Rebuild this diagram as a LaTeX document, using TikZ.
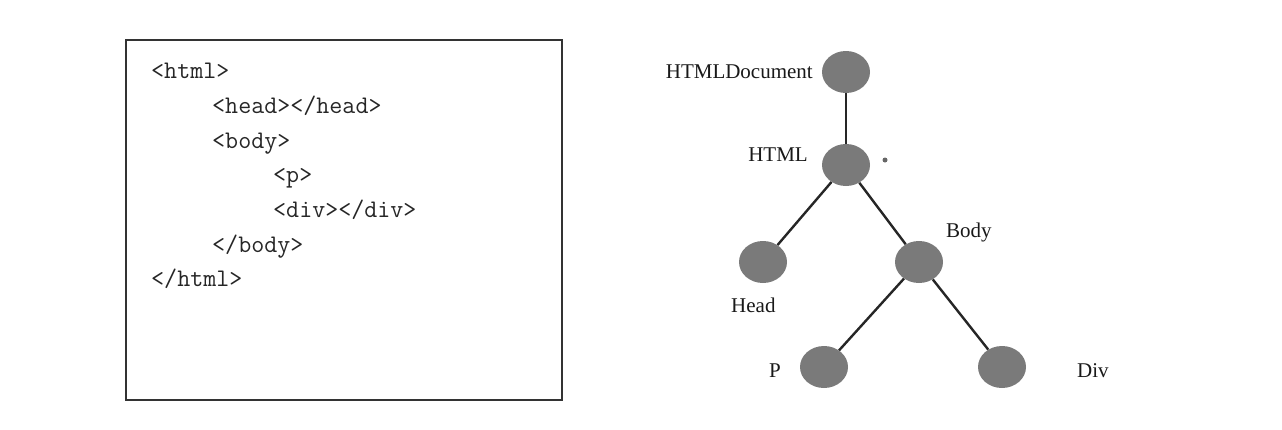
\documentclass[tikz,border=0pt]{standalone}
\usepackage{fontspec}
\setmainfont{Liberation Serif}
\usetikzlibrary{shapes.geometric, positioning}

\begin{document}
\begin{tikzpicture}[
    x=1pt, y=-1pt,
    codebox/.style={draw=black!80, line width=1.8pt},
    codeline/.style={anchor=base west, inner sep=0pt, font=\fontsize{25.3}{29}\selectfont\ttfamily, text=black!85},
    domnode/.style={ellipse, fill=black!52, minimum width=48pt, minimum height=42pt, inner sep=0pt},
    domlabel/.style={inner sep=0pt, font=\fontsize{21}{25}\selectfont, text=black!90},
    branch/.style={line width=2.4pt, draw=black!85}
]
    \useasboundingbox (0,0) rectangle (1282,429);

    % source listing
    \node[codebox, minimum width=436pt, minimum height=360pt, anchor=north west] (listing) at (125,39) {};
    \node[codeline] (l1) at (151,78) {<html>};
    \node[codeline] (l2) at (212,113) {<head></head>};
    \node[codeline] (l3) at (212,148) {<body>};
    \node[codeline] (l4) at (273,182) {<p>};
    \node[codeline] (l5) at (273,217) {<div></div>};
    \node[codeline] (l6) at (212,252) {</body>};
    \node[codeline] (l7) at (151,286) {</html>};

    % DOM tree
    \node[domnode] (doc) at (846,72) {};
    \node[domnode] (html) at (846,165) {};
    \node[domnode] (head) at (763,262) {};
    \node[domnode] (body) at (919,262) {};
    \node[domnode] (p) at (824,367) {};
    \node[domnode] (div) at (1002,367) {};
    \node[circle, fill=black!60, minimum size=5pt, inner sep=0pt] (speck) at (885,160) {};

    \node[domlabel, anchor=east] (doclbl) at (813,72) {HTMLDocument};
    \node[domlabel, anchor=east] (htmllbl) at (808,155) {HTML};
    \node[domlabel, anchor=west] (bodylbl) at (946,232) {Body};
    \node[domlabel, anchor=west] (headlbl) at (731,305) {Head};
    \node[domlabel, anchor=west] (plbl) at (769,371) {P};
    \node[domlabel, anchor=west] (divlbl) at (1077,371) {Div};

    \draw[branch] (doc) -- (html);
    \draw[branch] (html) -- (head);
    \draw[branch] (html) -- (body);
    \draw[branch] (body) -- (p);
    \draw[branch] (body) -- (div);
\end{tikzpicture}
\end{document}
